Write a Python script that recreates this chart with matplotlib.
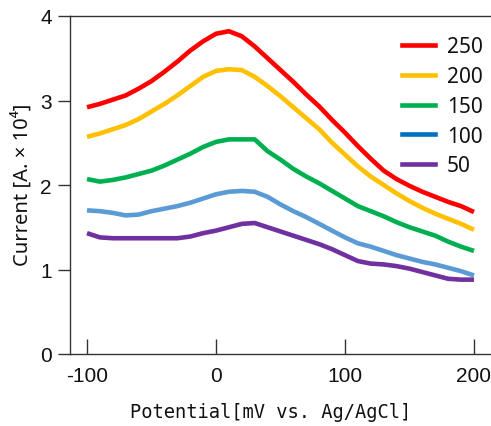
import matplotlib
matplotlib.use("Agg")
import matplotlib.pyplot as plt
from matplotlib.lines import Line2D

potential = [-100, -90, -80, -70, -60, -50, -40, -30, -20, -10, 0, 10, 20, 30, 40, 50,
             60, 70, 80, 90, 100, 110, 120, 130, 140, 150, 160, 170, 180, 190, 200]

c250 = [2.92, 2.96, 3.01, 3.06, 3.14, 3.23, 3.34, 3.46, 3.59, 3.70, 3.79, 3.82, 3.76, 3.64,
        3.50, 3.36, 3.22, 3.07, 2.93, 2.77, 2.62, 2.46, 2.31, 2.17, 2.07, 1.99, 1.92, 1.86,
        1.80, 1.75, 1.68]
c200 = [2.57, 2.61, 2.66, 2.71, 2.78, 2.87, 2.96, 3.06, 3.17, 3.28, 3.35, 3.37, 3.36, 3.28,
        3.17, 3.05, 2.92, 2.79, 2.66, 2.50, 2.36, 2.22, 2.10, 2.00, 1.90, 1.81, 1.73, 1.66,
        1.60, 1.54, 1.47]
c150 = [2.07, 2.04, 2.06, 2.09, 2.13, 2.17, 2.23, 2.30, 2.37, 2.45, 2.51, 2.54, 2.54, 2.54,
        2.40, 2.30, 2.19, 2.10, 2.02, 1.93, 1.84, 1.75, 1.69, 1.63, 1.56, 1.50, 1.45, 1.40,
        1.33, 1.27, 1.22]
c100 = [1.70, 1.69, 1.67, 1.64, 1.65, 1.69, 1.72, 1.75, 1.79, 1.84, 1.89, 1.92, 1.93, 1.92,
        1.86, 1.77, 1.69, 1.62, 1.54, 1.46, 1.38, 1.31, 1.27, 1.22, 1.17, 1.13, 1.09, 1.06,
        1.02, 0.98, 0.93]
c50 = [1.43, 1.38, 1.37, 1.37, 1.37, 1.37, 1.37, 1.37, 1.39, 1.43, 1.46, 1.50, 1.54, 1.55,
       1.50, 1.45, 1.40, 1.35, 1.30, 1.24, 1.17, 1.10, 1.07, 1.06, 1.04, 1.01, 0.97, 0.93,
       0.89, 0.88, 0.88]

labels = ["250", "200", "150", "100", "50"]
series = [c250, c200, c150, c100, c50]
line_colors = ["#FF0000", "#FFC000", "#00B050", "#5B9BD5", "#7030A0"]
legend_colors = ["#FF0000", "#FFC000", "#00B050", "#0070C0", "#7030A0"]

xticks = [-100, 0, 100, 200]
yticks = [0, 1, 2, 3, 4]

fig = plt.figure(figsize=(4.91, 4.27), dpi=100)
ax = fig.add_axes([70 / 491, 72 / 427, 421 / 491, 338 / 427])

for y, col in zip(series, line_colors):
    ax.plot(potential, y, color=col, lw=3.3, solid_joinstyle="round", solid_capstyle="butt")

ax.set_xlim(-113.2, 213.2)
ax.set_ylim(0, 4)
ax.spines["right"].set_visible(False)
for s in ["left", "bottom", "top"]:
    ax.spines[s].set_color("#333333")
    ax.spines[s].set_linewidth(1.0)

ax.set_xticks(xticks)
ax.set_yticks(yticks)
ax.set_xticklabels([str(t) for t in xticks])
ax.set_yticklabels([str(t) for t in yticks])
ax.tick_params(axis="x", direction="in", length=11, width=1, color="#333333", pad=9)
ax.tick_params(axis="y", direction="out", length=9, width=1, color="#333333", pad=4)
for lab in ax.get_xticklabels() + ax.get_yticklabels():
    lab.set_fontfamily("Liberation Sans")
    lab.set_fontsize(15)
    lab.set_color("#111111")

fig.text(271 / 491, 1 - 413 / 427, "Potential[mV vs. Ag/AgCl]", ha="center", va="center",
         family="DejaVu Sans Mono", fontsize=13.5, color="#111111")
fig.text(22 / 491, 1 - 185 / 427, "Current [A. × 10⁴]", ha="center", va="center",
         rotation=90, family="Noto Sans", fontsize=14.5, color="#111111")

handles = [Line2D([0], [0], color=c, lw=3.3) for c in legend_colors]
leg = ax.legend(handles, labels, loc="upper left", bbox_to_anchor=(324 / 421, 1 - 12 / 338),
                frameon=False, handlelength=1.55, handletextpad=0.6, labelspacing=0.42,
                borderaxespad=0, prop={"family": "Noto Sans", "size": 15})
for t in leg.get_texts():
    t.set_color("#111111")

fig.savefig("out.png", dpi=100)
